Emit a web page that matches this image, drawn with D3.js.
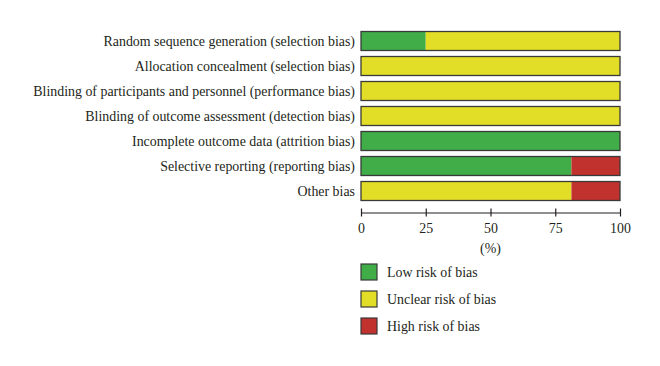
<!DOCTYPE html>
<html>
<head>
<meta charset="utf-8">
<script src="https://cdn.jsdelivr.net/npm/d3@7"></script>
<style>
  body { margin: 0; background: #fff; }
  svg { display: block; font-family: "Liberation Serif", "DejaVu Serif", serif; }
</style>
</head>
<body>
<svg id="chart" width="660" height="366"></svg>
<script>
const domains = [
  "Random sequence generation (selection bias)",
  "Allocation concealment (selection bias)",
  "Blinding of participants and personnel (performance bias)",
  "Blinding of outcome assessment (detection bias)",
  "Incomplete outcome data (attrition bias)",
  "Selective reporting (reporting bias)",
  "Other bias",
];
const lowRisk = [25, 0, 0, 0, 100, 81.25, 0];
const unclearRisk = [75, 100, 100, 100, 0, 0, 81.25];
const highRisk = [0, 0, 0, 0, 0, 18.75, 18.75];
const riskLabels = ["Low risk of bias", "Unclear risk of bias", "High risk of bias"];
const riskColors = ["#40ad48", "#e2dd26", "#c1312d"];
const xTicks = [0, 25, 50, 75, 100];

const fontSize = 13.9;
const svg = d3.select("#chart");
const x = d3.scaleLinear().domain([0, 100]).range([361, 620]);
const y = d3.scaleBand().domain(domains).range([28.5, 203.5]).paddingInner(0.24).paddingOuter(0.12);

const rows = domains.map((name, i) => {
  const vals = [lowRisk[i], unclearRisk[i], highRisk[i]];
  let acc = 0;
  return vals.map((v, k) => {
    const seg = { name, k, x0: acc, x1: acc + v };
    acc += v;
    return seg;
  }).filter((s) => s.x1 > s.x0);
});

const bars = svg.append("g");
rows.forEach((segs) => {
  bars.selectAll(null)
    .data(segs)
    .join("rect")
    .attr("x", (d) => x(d.x0))
    .attr("y", (d) => y(d.name))
    .attr("width", (d) => x(d.x1) - x(d.x0))
    .attr("height", y.bandwidth())
    .attr("fill", (d) => riskColors[d.k]);
});

// outline around each whole bar
bars.selectAll("rect.outline")
  .data(domains)
  .join("rect")
  .attr("class", "outline")
  .attr("x", x(0))
  .attr("y", (d) => y(d))
  .attr("width", x(100) - x(0))
  .attr("height", y.bandwidth())
  .attr("fill", "none")
  .attr("stroke", "#3a3a3a")
  .attr("stroke-width", 1.3);

svg.append("g")
  .selectAll("text")
  .data(domains)
  .join("text")
  .attr("x", 355)
  .attr("y", (d) => y(d) + y.bandwidth() / 2)
  .attr("dy", "0.35em")
  .attr("text-anchor", "end")
  .attr("font-size", fontSize)
  .attr("fill", "#231f20")
  .text((d) => d);

const axis = svg.append("g")
  .attr("transform", "translate(0,212.5)")
  .call(d3.axisBottom(x).tickValues(xTicks).tickSize(4).tickPadding(7).tickSizeOuter(0));
axis.select(".domain").attr("stroke", "#231f20").attr("stroke-width", 1.2);
axis.selectAll(".tick line").attr("stroke", "#231f20").attr("stroke-width", 1.2).attr("y1", -4);
axis.selectAll(".tick text")
  .attr("font-family", "Liberation Serif, DejaVu Serif, serif")
  .attr("font-size", fontSize)
  .attr("fill", "#231f20");

svg.append("text")
  .attr("x", x(50))
  .attr("y", 253)
  .attr("text-anchor", "middle")
  .attr("font-size", fontSize)
  .attr("fill", "#231f20")
  .text("(%)");

const legend = svg.append("g")
  .selectAll("g")
  .data(riskLabels)
  .join("g")
  .attr("transform", (d, i) => `translate(361,${264 + i * 27})`);
legend.append("rect")
  .attr("width", 16)
  .attr("height", 16)
  .attr("fill", (d, i) => riskColors[i])
  .attr("stroke", "#3a3a3a")
  .attr("stroke-width", 1.2);
legend.append("text")
  .attr("x", 26)
  .attr("y", 8)
  .attr("dy", "0.35em")
  .attr("font-size", fontSize)
  .attr("fill", "#231f20")
  .text((d) => d);
</script>
</body>
</html>
